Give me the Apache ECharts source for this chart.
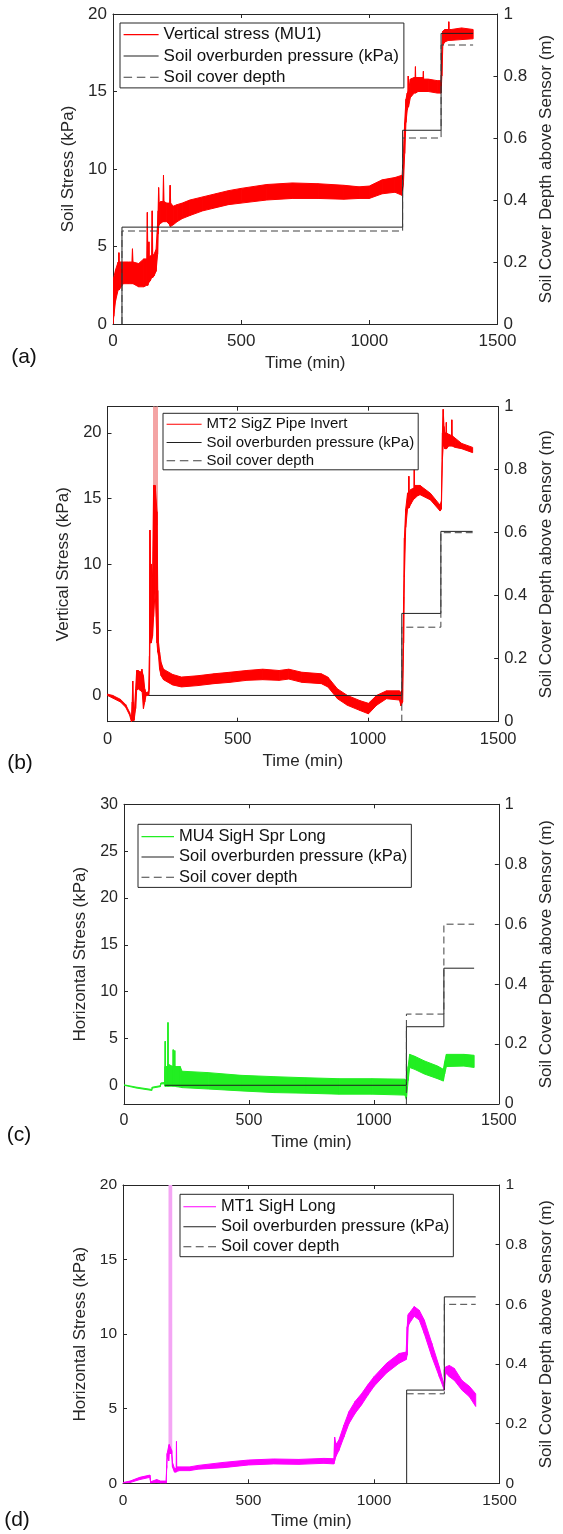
<!DOCTYPE html>
<html><head><meta charset="utf-8">
<script src="https://cdn.jsdelivr.net/npm/echarts@6/dist/echarts.min.js"></script>
<style>html,body{margin:0;padding:0;background:#fff}#c{width:563px;height:1534px}</style>
</head><body><div id="c"></div>
<script>
// ---------- DATA ----------
const timeTicks = [0, 500, 1000, 1500];
const depthTicks = [0, 0.2, 0.4, 0.6, 0.8, 1];

// (a) Vertical stress (MU1): noisy band, lower / upper envelope
const aTime = [0,3,10,20,22,23,24,40,60,74,76,78,100,120,132,134,136,139,140,141,146,151,153,155,160,168,174,176,178,180,186,195,197,199,210,221,223,225,235,250,270,300,350,400,450,500,600,700,800,900,960,1000,1050,1100,1128,1133,1138,1143,1148,1151,1152,1153,1160,1175,1179,1180,1181,1190,1210,1211,1212,1230,1265,1280,1283,1287,1295,1309,1310,1311,1320,1360,1405];
const aLo = [0,0.5,1.5,2.2,2.2,2.2,2.2,2.6,2.6,2.6,2.6,2.6,2.4,2.4,2.5,2.5,2.5,2.7,2.7,2.7,2.8,3.0,3.0,3.0,3.1,3.4,4.5,5.8,6.3,6.4,6.5,6.6,6.6,6.6,6.6,6.4,6.3,6.3,6.4,6.6,6.8,7.0,7.3,7.5,7.7,7.8,8.0,8.1,8.1,8.05,8.1,8.1,8.4,8.5,8.3,9.0,11.0,13.0,13.8,14.0,14.0,14.0,14.6,14.9,14.9,14.9,14.9,15.0,15.0,15.0,15.0,15.0,14.9,14.9,16.0,18.0,18.2,18.3,18.3,18.3,18.3,18.35,18.4];
const aHi = [0.3,3.0,3.5,4.0,4.0,4.6,4.0,4.0,4.0,4.0,4.85,4.0,3.9,4.2,4.2,7.2,4.3,4.3,5.3,4.3,4.4,4.4,7.3,4.4,4.5,4.8,6.5,7.3,8.8,7.8,7.9,7.9,9.6,7.9,7.8,7.8,8.95,7.8,7.6,7.7,7.8,8.0,8.2,8.4,8.6,8.75,9.0,9.1,9.05,8.95,8.85,8.9,9.3,9.45,9.6,11.0,13.0,14.5,14.9,15.0,16.0,15.0,15.8,15.9,15.9,16.6,15.9,15.9,15.9,16.3,15.8,15.8,15.7,15.7,17.5,18.9,19.0,19.0,19.5,19.0,19.0,19.1,19.0];
const aObTime = [35,35,1130,1130,1280,1280,1405];
const aObKPa  = [0,6.25,6.25,12.5,12.5,18.75,18.75];
const aCdTime = [35,35,1130,1130,1280,1280,1405];
const aCdM    = [0,0.3,0.3,0.6,0.6,0.9,0.9];

// (b) MT2 SigZ Pipe Invert
const bTime = [0,20,50,70,85,92,95,97,99,102,108,112,118,125,131,132,133,138,143,148,158,161,163,165,168,173,177,183,190,193,196,200,206,215,250,284,346,409,471,534,596,659,696,746,821,846,883,921,970,1002,1033,1071,1121,1127,1133,1137,1140,1145,1152,1156,1157,1158,1165,1177,1178,1179,1190,1200,1240,1277,1282,1286,1289,1292,1295,1300,1301,1302,1310,1321,1322,1323,1335,1360,1402];
const bLo = [0,-0.2,-0.5,-0.9,-1.5,-2.0,-1.9,-1.9,-1.9,-1.9,-1.0,0.4,0.5,0.4,0.3,0.3,0.3,-1.0,-0.5,0,0,0.5,4,4,4,4.5,6,8,4,3.3,3.0,2.0,1.5,1.2,0.8,0.65,0.75,0.9,1.0,1.15,1.2,1.15,1.25,1.0,0.9,0.65,-0.25,-0.75,-1.15,-1.4,-0.75,-0.25,-0.35,-0.8,-0.5,4,9,12.8,14.2,14.3,14.3,14.3,14.6,15.0,15.0,15.0,15.2,15.3,14.9,14.05,14.2,18,19,19,18.8,18.8,18.8,18.8,19.0,19.0,19.0,19.0,18.9,18.8,18.5];
const bHi = [0.1,0,-0.3,-0.7,-1.3,-1.8,-0.5,1.1,-0.5,-1.6,0.5,1.9,1.9,1.8,1.8,2.0,1.8,1.5,0.5,0.2,0.3,3,12.6,10,10,9,16,16,14,8,4.0,3.3,2.5,2.0,1.6,1.4,1.5,1.65,1.77,1.9,2.0,1.9,2.0,1.77,1.65,1.4,0.5,0,-0.4,-0.6,0,0.35,0.35,0.2,0.5,7.5,12,14.2,15.4,15.5,16.7,15.5,15.7,15.8,18.1,16.0,16.0,16.0,15.4,14.5,14.8,20,21.8,20.5,20.0,20.0,20.8,20.0,19.9,19.8,21.0,19.8,19.6,19.2,18.9];
const bSpikeTime = [177,178,191,192];
const bSpikeLo   = [13,13,13,13];
const bSpikeHi   = [13,40,40,13];
const bObTime = [158,1130,1130,1280,1280,1402];
const bObKPa  = [0,0,6.25,6.25,12.5,12.5];
const bCdTime = [1130,1130,1280,1280,1402];
const bCdM    = [0,0.3,0.3,0.6,0.6];

// (c) MU4 SigH Spr Long
const cTime = [0,50,111,113,145,148,163,164,165,166,168,175,176,177,180,196,197,198,202,203,204,210,225,232,337,468,599,730,861,993,1124,1130,1137,1143,1163,1202,1255,1278,1283,1290,1360,1401];
const cLo = [0,-0.3,-0.55,-0.3,-0.15,0.15,0.15,-0.1,-0.1,-0.1,-0.1,-0.1,-0.1,-0.1,-0.1,-0.1,-0.1,-0.1,-0.1,-0.1,-0.1,-0.15,-0.2,-0.25,-0.4,-0.6,-0.78,-0.85,-0.95,-0.95,-1.05,-1.5,0.5,1.9,1.7,1.2,0.7,0.45,1.2,2.0,2.05,1.9];
const cHi = [0.05,-0.2,-0.45,-0.2,-0.05,0.25,0.3,2.0,4.7,2.0,2.0,2.0,6.7,2.2,2.2,2.0,3.8,2.0,2.0,3.7,2.0,2.0,2.0,1.5,1.35,1.06,0.92,0.8,0.7,0.7,0.65,0.3,2.0,3.3,3.1,2.6,2.05,1.7,2.5,3.3,3.3,3.2];
const cObTime = [164,1130,1130,1280,1280,1401];
const cObKPa  = [0,0,6.25,6.25,12.5,12.5];
const cCdTime = [1130,1130,1280,1280,1401];
const cCdM    = [0,0.3,0.3,0.6,0.6];

// (d) MT1 SigH Long
const dTime = [0,28,67,107,109,110,134,150,172,174,176,182,184,194,197,205,212,213,214,226,266,300,400,500,600,700,800,840,843,848,860,880,900,925,950,975,1000,1050,1100,1128,1132,1136,1140,1160,1180,1200,1230,1260,1280,1285,1300,1320,1350,1380,1405];
const dLo = [0,0.05,0.25,0.4,0.2,0,0.05,0,0,1.0,1.8,1.5,2.0,2.0,1.1,0.75,0.75,0.8,0.8,0.85,0.85,0.95,1.05,1.23,1.3,1.27,1.34,1.3,1.5,1.8,2.2,3.1,4.0,4.7,5.25,5.9,6.5,7.4,8.05,8.3,8.6,10.5,10.7,11.2,10.95,10.05,8.5,7.15,6.25,7.4,7.15,6.9,6.25,5.8,5.15];
const dHi = [0.05,0.15,0.4,0.55,0.35,0.1,0.25,0.15,0.15,1.2,2.0,2.5,2.6,2.2,1.4,1.0,1.0,2.8,1.1,1.1,1.1,1.2,1.4,1.56,1.63,1.6,1.67,1.65,3.1,2.6,2.9,3.9,4.8,5.5,6.0,6.6,7.15,8.05,8.7,8.8,10.5,11.3,11.4,11.85,11.6,10.95,9.4,7.8,6.5,7.8,7.9,7.7,6.9,6.5,6.0];
const dSpikeTime = [184,184.5,193.5,194];
const dSpikeLo   = [2,2,2,2];
const dSpikeHi   = [2,40,40,2];
const dObTime = [1130,1130,1280,1280,1405];
const dObKPa  = [0,6.25,6.25,12.5,12.5];
const dCdTime = [1130,1280,1280,1405];
const dCdM    = [0.3,0.3,0.6,0.6];

const OB_NAME = 'Soil overburden pressure (kPa)';
const CD_NAME = 'Soil cover depth';

// ---------- LAYOUT / STYLE ----------
const FONT = 'Liberation Sans, Arial, sans-serif';
const AX = '#262626';
const panels = [
  {tag:'(a)', tagX:24, tagY:357, name:'Vertical stress (MU1)', color:'#ff0000',
   t:aTime, lo:aLo, hi:aHi, ob:[aObTime,aObKPa], cd:[aCdTime,aCdM],
   grid:{left:113, top:14, width:393, height:310}, yMin:0, yMax:20, yTicks:[0,5,10,15,20],
   yName:'Soil Stress (kPa)', fs:17, xGap:31, yGap:29, rGap:39,
   leg:{left:120, top:23, pad:[1,5,0,3.6], iw:35, lh:21.3, fs:17}},
  {tag:'(b)', tagX:20, tagY:763, name:'MT2 SigZ Pipe Invert', color:'#ff0000', spikeColor:'#f4a4a4',
   spike:[bSpikeTime,bSpikeLo,bSpikeHi],
   t:bTime, lo:bLo, hi:bHi, ob:[bObTime,bObKPa], cd:[bCdTime,bCdM],
   grid:{left:107.5, top:406.7, width:400.5, height:315}, yMin:-2, yMax:22, yTicks:[0,5,10,15,20],
   yName:'Vertical Stress (kPa)', fs:16.5, xGap:31.5, yGap:31, rGap:37,
   leg:{left:163, top:413.3, pad:[1.9,4,0,3.6], iw:35, lh:18.2, fs:15}},
  {tag:'(c)', tagX:19, tagY:1135, name:'MU4 SigH Spr Long', color:'#22ee22',
   t:cTime, lo:cLo, hi:cHi, ob:[cObTime,cObKPa], cd:[cCdTime,cCdM],
   grid:{left:124, top:804.3, width:381.3, height:299.7}, yMin:-2, yMax:30, yTicks:[0,5,10,15,20,25,30],
   yName:'Horizontal Stress (kPa)', fs:16, xGap:29.5, yGap:28, rGap:36,
   leg:{left:138, top:824.3, pad:[2.2,4,0,3.5], iw:32.5, lh:20.3, fs:16.5}},
  {tag:'(d)', tagX:17, tagY:1520, name:'MT1 SigH Long', color:'#ff00ff', spikeColor:'#f4a6f4',
   spike:[dSpikeTime,dSpikeLo,dSpikeHi],
   t:dTime, lo:dLo, hi:dHi, ob:[dObTime,dObKPa], cd:[dCdTime,dCdM],
   grid:{left:123, top:1185, width:378, height:298.3}, yMin:0, yMax:20, yTicks:[0,5,10,15,20],
   yName:'Horizontal Stress (kPa)', fs:15.5, xGap:30, yGap:28.5, rGap:37,
   leg:{left:180, top:1194.3, pad:[2.4,4,0,3.4], iw:32.6, lh:20, fs:16.5}}
];

const OB_COLOR = '#202020', CD_COLOR = '#404040';
const SOLID_ICON = 'path://M0,0h37v1.2h-37z';
const DASH_ICON  = 'path://M0,0h9v1.2h-9z M14,0h9v1.2h-9z M28,0h9v1.2h-9z';

const zip = (xs, ys) => xs.map((x, i) => [x, ys[i]]);

// band drawn as quads between lower and upper envelope, through the axis scales
function bandSeries(k, t, lo, hi, color, name) {
  const data = [];
  for (let i = 0; i < t.length - 1; i++) data.push([t[i], lo[i], hi[i], t[i+1], lo[i+1], hi[i+1]]);
  return {type:'custom', name:name, xAxisIndex:2*k, yAxisIndex:2*k, clip:true, silent:true, animation:false,
    itemStyle:{color:color}, encode:{x:[0,3], y:[1,2,4,5]}, data:data,
    renderItem:function (params, api) {
      const a = api.coord([api.value(0), api.value(1)]);
      const b = api.coord([api.value(3), api.value(4)]);
      const c = api.coord([api.value(3), api.value(5)]);
      const d = api.coord([api.value(0), api.value(2)]);
      return {type:'polygon', shape:{points:[a, b, c, d]},
        style:{fill:color, stroke:color, lineWidth:1, lineJoin:'round'}};
    }};
}

const grids = [], xAxes = [], yAxes = [], series = [], legends = [], graphics = [];
const plain = v => String(Math.round(v * 1000) / 1000);
panels.forEach((p, k) => {
  grids.push(Object.assign({containLabel:false}, p.grid));
  const tickStyle = {inside:true, length:4, lineStyle:{color:AX, width:1}};
  const lineStyle = {show:true, onZero:false, lineStyle:{color:AX, width:1}};
  xAxes.push({gridIndex:k, type:'value', position:'bottom', min:timeTicks[0], max:timeTicks[timeTicks.length-1],
    interval:timeTicks[1]-timeTicks[0], axisLine:lineStyle, axisTick:tickStyle, splitLine:{show:false},
    axisLabel:{margin:9, fontSize:p.fs, color:AX, fontFamily:FONT, formatter:plain},
    name:'Time (min)', nameLocation:'middle', nameGap:p.xGap,
    nameTextStyle:{fontSize:17, color:AX, fontFamily:FONT}});
  xAxes.push({gridIndex:k, type:'value', position:'top', min:timeTicks[0], max:timeTicks[timeTicks.length-1],
    interval:timeTicks[1]-timeTicks[0], axisLine:lineStyle, axisTick:tickStyle, axisLabel:{show:false}, splitLine:{show:false}});
  yAxes.push({gridIndex:k, type:'value', position:'left', min:p.yMin, max:p.yMax,
    axisLine:lineStyle, axisTick:Object.assign({customValues:p.yTicks}, tickStyle), splitLine:{show:false},
    axisLabel:{customValues:p.yTicks, margin:6, fontSize:p.fs, color:AX, fontFamily:FONT, formatter:plain},
    name:p.yName, nameLocation:'middle', nameRotate:90, nameGap:p.yGap,
    nameTextStyle:{fontSize:17, color:AX, fontFamily:FONT}});
  yAxes.push({gridIndex:k, type:'value', position:'right', min:depthTicks[0], max:depthTicks[depthTicks.length-1],
    interval:depthTicks[1]-depthTicks[0], axisLine:lineStyle, axisTick:tickStyle, splitLine:{show:false},
    axisLabel:{margin:6, fontSize:p.fs, color:AX, fontFamily:FONT, formatter:plain},
    name:'Soil Cover Depth above Sensor (m)', nameLocation:'middle', nameRotate:90, nameGap:p.rGap,
    nameTextStyle:{fontSize:17, color:AX, fontFamily:FONT}});

  if (p.spike) series.push(bandSeries(k, p.spike[0], p.spike[1], p.spike[2], p.spikeColor, '_spike' + k));
  series.push(bandSeries(k, p.t, p.lo, p.hi, p.color, p.name));
  const base = {type:'line', xAxisIndex:2*k, symbol:'none', showSymbol:false, animation:false, silent:true};
  series.push(Object.assign({}, base, {name:OB_NAME, yAxisIndex:2*k, data:zip(p.ob[0], p.ob[1]),
    lineStyle:{color:OB_COLOR, width:1}, itemStyle:{color:OB_COLOR}}));
  series.push(Object.assign({}, base, {name:CD_NAME, yAxisIndex:2*k+1, data:zip(p.cd[0], p.cd[1]),
    lineStyle:{color:CD_COLOR, width:1, type:[7,4]}, itemStyle:{color:CD_COLOR}}));

  legends.push({orient:'vertical', left:p.leg.left, top:p.leg.top, padding:p.leg.pad,
    itemWidth:p.leg.iw, itemHeight:1.2, itemGap:0, selectedMode:false,
    borderColor:AX, borderWidth:1, backgroundColor:'#fff',
    textStyle:{fontSize:p.leg.fs, lineHeight:p.leg.lh, color:'#111', fontFamily:FONT},
    data:[{name:p.name, icon:SOLID_ICON, itemStyle:{color:p.color}},
          {name:OB_NAME, icon:SOLID_ICON, itemStyle:{color:OB_COLOR}},
          {name:CD_NAME, icon:DASH_ICON, itemStyle:{color:CD_COLOR}}]});

  graphics.push({type:'text', x:p.tagX, y:p.tagY,
    style:{text:p.tag, fontSize:21, fontFamily:FONT, fill:'#111', textAlign:'center', textVerticalAlign:'middle'}});
});

const chart = echarts.init(document.getElementById('c'), null, {renderer:'canvas'});
chart.setOption({
  backgroundColor:'#fff', animation:false,
  grid:grids, xAxis:xAxes, yAxis:yAxes, legend:legends, series:series, graphic:graphics
});
</script></body></html>
